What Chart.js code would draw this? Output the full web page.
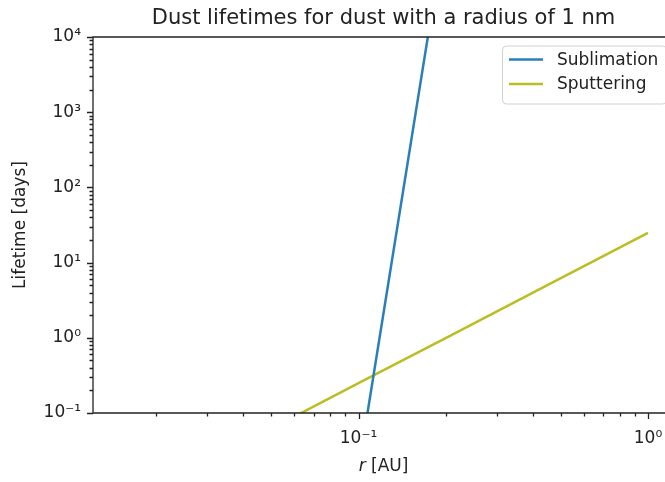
<!DOCTYPE html>
<html>
<head>
<meta charset="utf-8">
<script src="https://cdn.jsdelivr.net/npm/chart.js@4.4.1/dist/chart.umd.min.js"></script>
<style>
  html, body { margin: 0; padding: 0; background: #fff; overflow: hidden; }
  #wrap { width: 665px; height: 482px; overflow: hidden; position: relative; }
  #chart { position: absolute; left: 0; top: 0; }
</style>
</head>
<body>
<div id="wrap"><canvas id="chart" width="767" height="482"></canvas></div>
<script>
// values (r in AU, lifetime in days)
const radii = [0.015, 0.05, 0.1, 0.2, 0.5, 1.0];
const sublimation = [1e-20, 1e-8, 0.018, 3.0e5, 1e12, 1e16];
const sputtering = [0.0056, 0.062, 0.25, 0.99, 6.2, 24.8];

const xMajor = [0.1, 1];
const xTickLabels = ['10⁻¹', '10⁰'];
const yMajor = [0.1, 1, 10, 100, 1000, 10000];
const yTickLabels = ['10⁻¹', '10⁰', '10¹', '10²', '10³', '10⁴'];

const TITLE = 'Dust lifetimes for dust with a radius of 1 nm';
const X_MIN = 0.0121, X_MAX = 1.23;
const Y_MIN = 0.1, Y_MAX = 1e4;
const FONT = "'DejaVu Sans', sans-serif";
const INK = '#222';

Chart.defaults.font.family = FONT;
Chart.defaults.color = INK;

function logTicks(min, max) {
    const out = [];
    for (let d = Math.floor(Math.log10(min)); d <= Math.ceil(Math.log10(max)); d++) {
        for (let k = 1; k <= 9; k++) {
            const v = k * Math.pow(10, d);
            if (v >= min * 0.9999 && v <= max * 1.0001) out.push(v);
        }
    }
    return out;
}

function majorIndex(list, v) {
    return list.findIndex(m => Math.abs(m - v) / m < 1e-6);
}

// ticks, spines, title, axis labels and legend in matplotlib style
const mplDecor = {
    id: 'mplDecor',
    afterDatasetsDraw(chart) {
        const {ctx, chartArea: a, scales: {x, y}} = chart;
        ctx.save();
        ctx.strokeStyle = INK;
        ctx.lineWidth = 1.3;
        ctx.beginPath();
        x.ticks.forEach(t => {
            const px = Math.round(x.getPixelForValue(t.value)) + 0.5;
            if (px < a.left - 1 || px > a.right + 1) return;
            const len = majorIndex(xMajor, t.value) >= 0 ? 6 : 3.5;
            ctx.moveTo(px, a.bottom);
            ctx.lineTo(px, a.bottom + len);
        });
        y.ticks.forEach(t => {
            const py = Math.round(y.getPixelForValue(t.value)) + 0.5;
            if (py < a.top - 1 || py > a.bottom + 1) return;
            const len = majorIndex(yMajor, t.value) >= 0 ? 6 : 3.5;
            ctx.moveTo(a.left, py);
            ctx.lineTo(a.left - len, py);
        });
        ctx.stroke();
        // left, top and bottom spines (the right one lies outside the window)
        ctx.beginPath();
        ctx.moveTo(a.right, a.top);
        ctx.lineTo(a.left, a.top);
        ctx.lineTo(a.left, a.bottom);
        ctx.lineTo(a.right, a.bottom);
        ctx.stroke();

        // title, centred over the axes
        ctx.fillStyle = INK;
        ctx.textBaseline = 'middle';
        ctx.textAlign = 'center';
        ctx.font = '21px ' + FONT;
        ctx.fillText(TITLE, (a.left + a.right) / 2, 19);

        // axis labels
        ctx.font = 'italic 17px ' + FONT;
        const w1 = ctx.measureText('r').width;
        ctx.font = '17px ' + FONT;
        const w2 = ctx.measureText(' [AU]').width;
        const cx = (a.left + a.right) / 2 - (w1 + w2) / 2;
        ctx.textAlign = 'left';
        ctx.font = 'italic 17px ' + FONT;
        ctx.fillText('r', cx, 467);
        ctx.font = '17px ' + FONT;
        ctx.fillText(' [AU]', cx + w1, 467);

        ctx.save();
        ctx.translate(21, (a.top + a.bottom) / 2);
        ctx.rotate(-Math.PI / 2);
        ctx.textAlign = 'center';
        ctx.fillText('Lifetime [days]', 0, 0);
        ctx.restore();

        // legend
        const bx = 502, by = 45.5, bw = 164, bh = 58;
        ctx.fillStyle = 'rgba(255,255,255,0.8)';
        ctx.strokeStyle = '#d0d0d0';
        ctx.lineWidth = 1;
        ctx.beginPath();
        ctx.roundRect(bx + 0.5, by + 0.5, bw, bh, 4);
        ctx.fill();
        ctx.stroke();
        chart.data.datasets.forEach((ds, i) => {
            const ry = by + 14 + i * 24.5;
            ctx.strokeStyle = ds.borderColor;
            ctx.lineWidth = ds.borderWidth;
            ctx.beginPath();
            ctx.moveTo(bx + 7, ry);
            ctx.lineTo(bx + 41, ry);
            ctx.stroke();
            ctx.fillStyle = INK;
            ctx.textAlign = 'left';
            ctx.fillText(ds.label, bx + 55, ry + 1);
        });
        ctx.restore();
    }
};

new Chart(document.getElementById('chart'), {
    type: 'line',
    data: {
        datasets: [
            {
                label: 'Sublimation',
                data: radii.map((r, i) => ({x: r, y: sublimation[i]})),
                borderColor: '#2a7fba',
                borderWidth: 2.5,
                pointRadius: 0,
                clip: 0
            },
            {
                label: 'Sputtering',
                data: radii.map((r, i) => ({x: r, y: sputtering[i]})),
                borderColor: '#bcbd22',
                borderWidth: 2.5,
                pointRadius: 0,
                clip: 0
            }
        ]
    },
    options: {
        responsive: false,
        animation: false,
        layout: { padding: { left: 0, right: 93, top: 37, bottom: 0 } },
        plugins: {
            legend: { display: false },
            tooltip: { enabled: false },
            title: { display: false }
        },
        scales: {
            x: {
                type: 'logarithmic',
                min: X_MIN,
                max: X_MAX,
                grid: { display: false, drawTicks: false },
                border: { display: false },
                afterBuildTicks: s => { s.ticks = logTicks(X_MIN, X_MAX).map(v => ({value: v})); },
                afterFit: s => { s.height = 69; s.paddingLeft = 0; s.paddingRight = 0; },
                ticks: {
                    autoSkip: false,
                    maxRotation: 0,
                    padding: 15,
                    font: { size: 17 },
                    callback: v => { const i = majorIndex(xMajor, v); return i >= 0 ? xTickLabels[i] : ''; }
                }
            },
            y: {
                type: 'logarithmic',
                min: Y_MIN,
                max: Y_MAX,
                grid: { display: false, drawTicks: false },
                border: { display: false },
                afterBuildTicks: s => { s.ticks = logTicks(Y_MIN, Y_MAX).map(v => ({value: v})); },
                afterFit: s => { s.width = 93; s.paddingTop = 0; s.paddingBottom = 0; },
                ticks: {
                    autoSkip: false,
                    padding: 12,
                    font: { size: 17 },
                    callback: v => { const i = majorIndex(yMajor, v); return i >= 0 ? yTickLabels[i] : ''; }
                }
            }
        }
    },
    plugins: [mplDecor]
});
</script>
</body>
</html>
